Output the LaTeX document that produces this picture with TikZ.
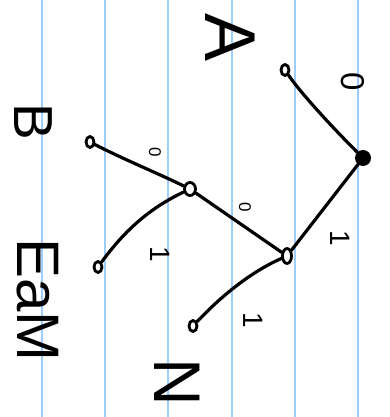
\documentclass[tikz,border=0pt]{standalone}
\usepackage{fontspec}
\setmainfont{Liberation Sans}
\usetikzlibrary{shapes.geometric}
\definecolor{ruleblue}{RGB}{160,205,255}
\begin{document}
\begin{tikzpicture}[x=1pt,y=-1pt,
  pen/.style={line width=3.2pt,line cap=round,black},
  leaf/.style={draw,ellipse,line width=2.8pt,inner sep=0pt,minimum width=8pt,minimum height=11pt},
  inner/.style={draw,ellipse,line width=2.8pt,inner sep=0pt,minimum width=11pt,minimum height=13pt},
  rootdot/.style={circle,fill=black,inner sep=0pt,minimum size=16pt},
  word/.style={rotate=-90,inner sep=0pt},
  elabel/.style={rotate=-90,inner sep=0pt}]
\useasboundingbox (0,0) rectangle (389,417);
\fill[white] (0,0) rectangle (389,417);
\foreach \x in {42,105,168,232,295,358}
  \draw[ruleblue,line width=2pt] (\x,0) -- (\x,417);
% nodes
\node[leaf] (lb) at (90,142) {};
\node[leaf] (le) at (98,267) {};
\node[leaf] (la) at (285,70) {};
\node[leaf] (ln) at (193,326) {};
\node[inner] (n1) at (190,189) {};
\node[inner,minimum width=9pt,minimum height=15pt] (n2) at (287,256) {};
\node[rootdot] (r) at (363,158) {};
% edges
\draw[pen] (lb) .. controls (125,160) and (155,172) .. (n1);
\draw[pen] (le) .. controls (125,230) and (150,208) .. (n1);
\draw[pen] (n1) -- (n2);
\draw[pen] (la) .. controls (300,92) and (330,125) .. (r);
\draw[pen] (n2) -- (r);
\draw[pen] (ln) .. controls (225,292) and (255,270) .. (n2);
% words
\node[word,font=\fontsize{72}{72}\selectfont] (ta) at (230,38) {A};
\node[word,font=\fontsize{55}{55}\selectfont] (tb) at (33,122) {B};
\node[word,font=\fontsize{60}{60}\selectfont] (te) at (38,300) {EaM};
\node[word,font=\fontsize{66}{66}\selectfont] (tn) at (177,382) {N};
% edge labels
\node[elabel,font=\fontsize{17}{17}\selectfont] (e1) at (155,152) {0};
\node[elabel,font=\fontsize{28}{28}\selectfont] (e2) at (160,254) {1};
\node[elabel,font=\fontsize{17}{17}\selectfont] (e3) at (245,207) {0};
\node[elabel,font=\fontsize{33}{33}\selectfont] (e4) at (353,82) {0};
\node[elabel,font=\fontsize{28}{28}\selectfont] (e5) at (340,238) {1};
\node[elabel,font=\fontsize{28}{28}\selectfont] (e6) at (253,320) {1};
\end{tikzpicture}
\end{document}
